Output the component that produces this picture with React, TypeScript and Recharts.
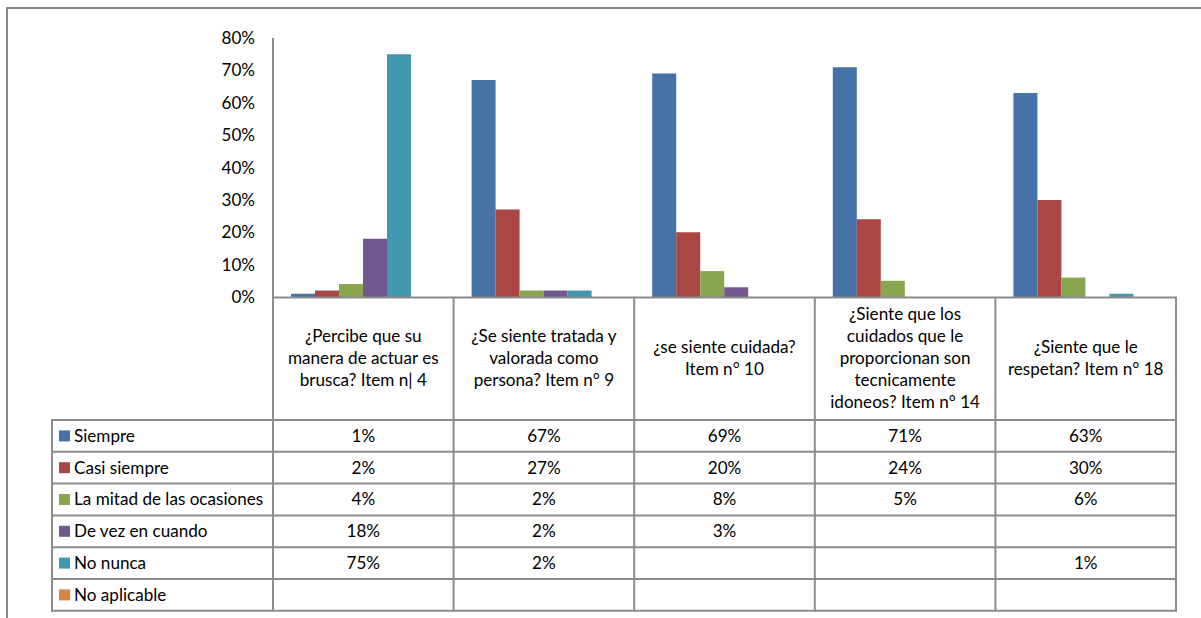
import React from 'react';
import { BarChart, Bar, XAxis, YAxis } from 'recharts';

const categoryLines: string[][] = [
  ['¿Percibe que su', 'manera de actuar es', 'brusca? Item n| 4'],
  ['¿Se siente tratada y', 'valorada como', 'persona? Item n° 9'],
  ['¿se siente cuidada?', 'Item n° 10'],
  ['¿Siente que los', 'cuidados que le', 'proporcionan son', 'tecnicamente', 'idoneos? Item n° 14'],
  ['¿Siente que le', 'respetan? Item n° 18'],
];

const seriesNames = ['Siempre', 'Casi siempre', 'La mitad de las ocasiones', 'De vez en cuando', 'No nunca', 'No aplicable'];
const siempre: (number | null)[] = [1, 67, 69, 71, 63];
const casiSiempre: (number | null)[] = [2, 27, 20, 24, 30];
const laMitad: (number | null)[] = [4, 2, 8, 5, 6];
const deVez: (number | null)[] = [18, 2, 3, null, null];
const noNunca: (number | null)[] = [75, 2, null, null, 1];
const noAplicable: (number | null)[] = [null, null, null, null, null];
const seriesColors = ['#4572A7', '#AA4643', '#89A54E', '#71588F', '#4198AF', '#DB843D'];
const yTicks = [0, 10, 20, 30, 40, 50, 60, 70, 80];

const seriesValues = [siempre, casiSiempre, laMitad, deVez, noNunca, noAplicable];
const data = categoryLines.map((lines, i) => {
  const row: Record<string, any> = { name: lines.join(' ') };
  seriesValues.forEach((vals, s) => {
    row['s' + s] = vals[i];
  });
  return row;
});

const W = 1201;
const H = 618;
const PLOT_LEFT = 273;
const PLOT_RIGHT = 1176;
const PLOT_TOP = 38;
const AXIS_Y = 297;
const HEADER_BOTTOM = 420;
const ROW_H = 31.8;
const LEGEND_LEFT = 52;
const FONT = 'Lato, "Noto Sans", sans-serif';
const FS = 17.1;
const LINE = '#8C8C8C';

const CategoryTick = (props: any) => {
  const { x, payload, index } = props;
  const ci = payload.index ?? index;
  const lines = categoryLines[ci] || [];
  const lh = 22;
  const center = (AXIS_Y + HEADER_BOTTOM) / 2;
  const start = center - ((lines.length - 1) * lh) / 2;
  return (
    <g>
      {lines.map((l, k) => (
        <text key={k} x={x} y={start + k * lh} dy="0.35em" textAnchor="middle" fontFamily={FONT} fontSize={FS} fill="#000">
          {l}
        </text>
      ))}
      {seriesValues.map((vals, s) =>
        vals[ci] == null ? null : (
          <text
            key={'v' + s}
            x={x}
            y={HEADER_BOTTOM + s * ROW_H + ROW_H / 2}
            dy="0.35em"
            textAnchor="middle"
            fontFamily={FONT}
            fontSize={FS}
            fill="#000"
          >
            {vals[ci] + '%'}
          </text>
        )
      )}
    </g>
  );
};

export default function App() {
  const colW = (PLOT_RIGHT - PLOT_LEFT) / categoryLines.length;
  const colXs = Array.from({ length: categoryLines.length + 1 }, (_, i) => PLOT_LEFT + i * colW);
  const rowYs = Array.from({ length: seriesNames.length + 1 }, (_, i) => HEADER_BOTTOM + i * ROW_H);
  const tableBottom = rowYs[rowYs.length - 1];
  return (
    <div style={{ position: 'absolute', left: 0, top: 0, width: W, height: H, overflow: 'hidden', background: '#fff' }}>
      <div
        style={{
          position: 'absolute',
          left: 6,
          top: 7,
          width: 1400,
          height: 800,
          borderLeft: '2px solid #8A8A8A',
          borderTop: '2px solid #8A8A8A',
        }}
      />
      <div style={{ position: 'absolute', left: 0, top: 0 }}>
        <BarChart
          width={W}
          height={H}
          data={data}
          margin={{ top: PLOT_TOP, right: W - PLOT_RIGHT, bottom: 0, left: 0 }}
          barCategoryGap={18}
          barGap={0}
        >
          <YAxis
            width={PLOT_LEFT}
            domain={[0, 80]}
            ticks={yTicks}
            tickFormatter={(v: number) => v + '%'}
            tickLine={false}
            tickSize={6}
            tickMargin={12}
            axisLine={{ stroke: LINE, strokeWidth: 2 }}
            tick={{ fill: '#000', fontFamily: FONT, fontSize: FS }}
            interval={0}
          />
          <XAxis
            dataKey="name"
            height={H - AXIS_Y}
            axisLine={false}
            tickLine={false}
            interval={0}
            tick={<CategoryTick />}
          />
          {seriesNames.map((n, s) => (
            <Bar key={n} dataKey={'s' + s} name={n} fill={seriesColors[s]} isAnimationActive={false} />
          ))}
        </BarChart>
      </div>
      <svg width={W} height={H} style={{ position: 'absolute', left: 0, top: 0, pointerEvents: 'none' }}>
        <line x1={PLOT_LEFT - 1} x2={PLOT_RIGHT + 1} y1={AXIS_Y + 0.5} y2={AXIS_Y + 0.5} stroke={LINE} strokeWidth={2} />
        {rowYs.map((y, i) => (
          <line key={'h' + i} x1={LEGEND_LEFT - 1} x2={PLOT_RIGHT + 1} y1={y} y2={y} stroke={LINE} strokeWidth={2} />
        ))}
        {colXs.map((x, i) => (
          <line key={'v' + i} x1={x} x2={x} y1={AXIS_Y} y2={tableBottom + 1} stroke={LINE} strokeWidth={2} />
        ))}
        <line x1={LEGEND_LEFT} x2={LEGEND_LEFT} y1={HEADER_BOTTOM - 1} y2={tableBottom + 1} stroke={LINE} strokeWidth={2} />
        {seriesNames.map((n, s) => {
          const cy = HEADER_BOTTOM + s * ROW_H + ROW_H / 2;
          return (
            <g key={n}>
              <rect x={59} y={cy - 5.5} width={11} height={11} fill={seriesColors[s]} />
              <text x={74} y={cy} dy="0.35em" fontFamily={FONT} fontSize={FS} fill="#000">
                {n}
              </text>
            </g>
          );
        })}
      </svg>
    </div>
  );
}
